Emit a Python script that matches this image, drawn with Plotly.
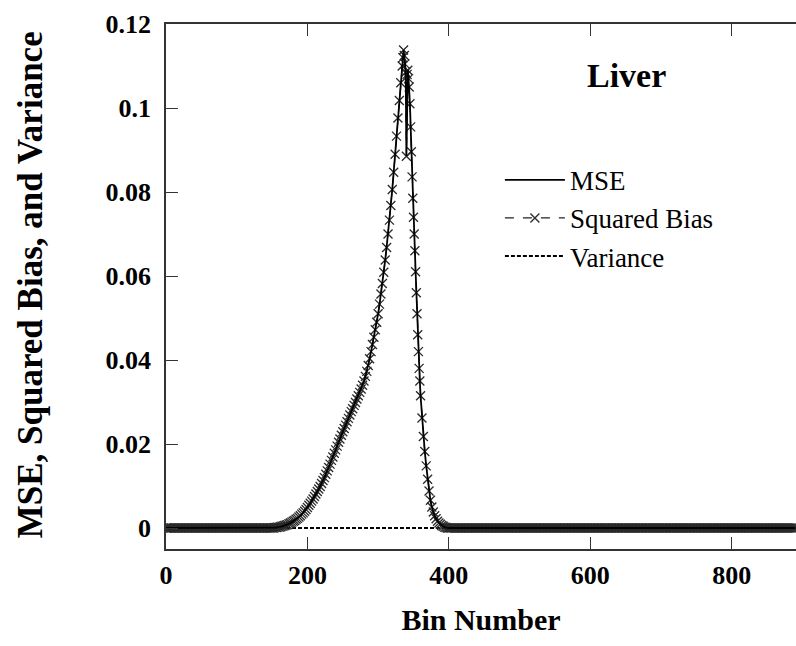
import plotly.graph_objects as go

# ---- data ----
# bin numbers (index of the detector bin)
bins_left_flat = list(range(0, 150, 2))
bins_rise = list(range(150, 335, 2))
bins_peak = list(range(335, 361, 1))
bins_fall = list(range(362, 400, 2))
bins_right_flat = list(range(400, 892, 2))

sq_bias_rise = [
    0.0000, 0.0000, 0.0001, 0.0001, 0.0002, 0.0002, 0.0003, 0.0004, 0.0005, 0.0006,
    0.0007, 0.0008, 0.0010, 0.0012, 0.0014, 0.0016, 0.0018, 0.0021, 0.0023, 0.0026,
    0.0029, 0.0033, 0.0036, 0.0040, 0.0044, 0.0049, 0.0054, 0.0059, 0.0064, 0.0069,
    0.0075, 0.0081, 0.0087, 0.0093, 0.0099, 0.0106, 0.0113, 0.0120, 0.0128, 0.0136,
    0.0144, 0.0152, 0.0161, 0.0169, 0.0178, 0.0186, 0.0195, 0.0204, 0.0212, 0.0221,
    0.0229, 0.0237, 0.0245, 0.0253, 0.0261, 0.0269, 0.0277, 0.0284, 0.0292, 0.0299,
    0.0307, 0.0315, 0.0323, 0.0331, 0.0340, 0.0350, 0.0361, 0.0373, 0.0387, 0.0403,
    0.0420, 0.0437, 0.0454, 0.0472, 0.0490, 0.0510, 0.0533, 0.0557, 0.0582, 0.0609,
    0.0638, 0.0668, 0.0700, 0.0733, 0.0768, 0.0806, 0.0847, 0.0890, 0.0933, 0.0976,
    0.1018, 0.1060, 0.1100,
]
sq_bias_peak = [
    0.1120, 0.1138, 0.1125, 0.1105, 0.1085, 0.0885, 0.1080, 0.1090, 0.1070, 0.1050,
    0.1010, 0.0955, 0.0896, 0.0836, 0.0785, 0.0740, 0.0700, 0.0660, 0.0610, 0.0560,
    0.0510, 0.0460, 0.0420, 0.0380, 0.0350, 0.0315,
]
sq_bias_fall = [
    0.0262, 0.0218, 0.0182, 0.0148, 0.0116, 0.0088, 0.0066, 0.0050, 0.0038, 0.0029,
    0.0022, 0.0016, 0.0012, 0.0009, 0.0006, 0.0004, 0.0002, 0.0001, 0.0000,
]

bins = bins_left_flat + bins_rise + bins_peak + bins_fall + bins_right_flat
sq_bias = ([0.0] * len(bins_left_flat) + sq_bias_rise + sq_bias_peak
           + sq_bias_fall + [0.0] * len(bins_right_flat))
variance = [0.0] * len(bins)
mse = [b + v for b, v in zip(sq_bias, variance)]

x_ticks = [0, 200, 400, 600, 800]
y_ticks = [0, 0.02, 0.04, 0.06, 0.08, 0.1, 0.12]
y_tick_text = ["0", "0.02", "0.04", "0.06", "0.08", "0.1", "0.12"]

FONT = "Liberation Serif, Times New Roman, serif"

fig = go.Figure()
fig.add_trace(go.Scatter(
    x=bins, y=variance, name="Variance", mode="lines",
    line=dict(color="black", width=2, dash="4px,2px"),
))
fig.add_trace(go.Scatter(
    x=bins, y=sq_bias, name="Squared Bias", mode="lines+markers",
    line=dict(color="#222", width=1.2, dash="dash"),
    marker=dict(symbol="x-thin", size=9, line=dict(color="#2a2a2a", width=1.3)),
))
fig.add_trace(go.Scatter(
    x=bins, y=mse, name="MSE", mode="lines",
    line=dict(color="black", width=1.8),
))

fig.update_layout(
    width=796, height=646,
    margin=dict(l=166, r=0, t=24, b=97, autoexpand=False),
    paper_bgcolor="white", plot_bgcolor="white",
    font=dict(family=FONT, color="black"),
    showlegend=True,
    legend=dict(
        x=0.53, y=0.749, xanchor="left", yanchor="top",
        bgcolor="rgba(0,0,0,0)", font=dict(size=27, family=FONT),
        traceorder="reversed", itemwidth=60, tracegroupgap=0,
    ),
    annotations=[
        dict(
            text="<b>Liver</b>", x=0.7317, y=0.901, xref="paper", yref="paper",
            xanchor="center", yanchor="middle",
            showarrow=False, font=dict(size=34, family=FONT),
        ),
        dict(
            text="<b>MSE, Squared Bias, and Variance</b>",
            x=-0.216, y=0.504, xref="paper", yref="paper",
            xanchor="center", yanchor="middle", textangle=-90,
            showarrow=False, font=dict(size=35, family=FONT),
        ),
    ],
)
fig.update_xaxes(
    range=[0, 891], tickvals=x_ticks, ticks="inside", ticklen=12,
    tickwidth=1, tickcolor="#333", automargin=False,
    showline=True, linecolor="#333", linewidth=1.5, mirror="ticks",
    showgrid=False, zeroline=False, ticklabelstandoff=2,
    tickfont=dict(size=26, family=FONT, weight="bold"),
    title=dict(text="<b>Bin Number</b>", font=dict(size=30, family=FONT), standoff=20),
)
fig.update_yaxes(
    range=[-0.005, 0.12], tickvals=y_ticks, ticktext=y_tick_text,
    ticks="inside", ticklen=12, tickwidth=1, tickcolor="#333", automargin=False,
    showline=True, linecolor="#333", linewidth=1.5, mirror=False,
    showgrid=False, zeroline=False, ticklabelstandoff=8,
    tickfont=dict(size=26, family=FONT, weight="bold"),
)

# remove the default page margin so the figure fills the window exactly
fig.write_html(
    "out.html",
    config={"displayModeBar": False},
    post_script="document.body.style.margin='0';"
                "document.documentElement.style.overflow='hidden';",
)
